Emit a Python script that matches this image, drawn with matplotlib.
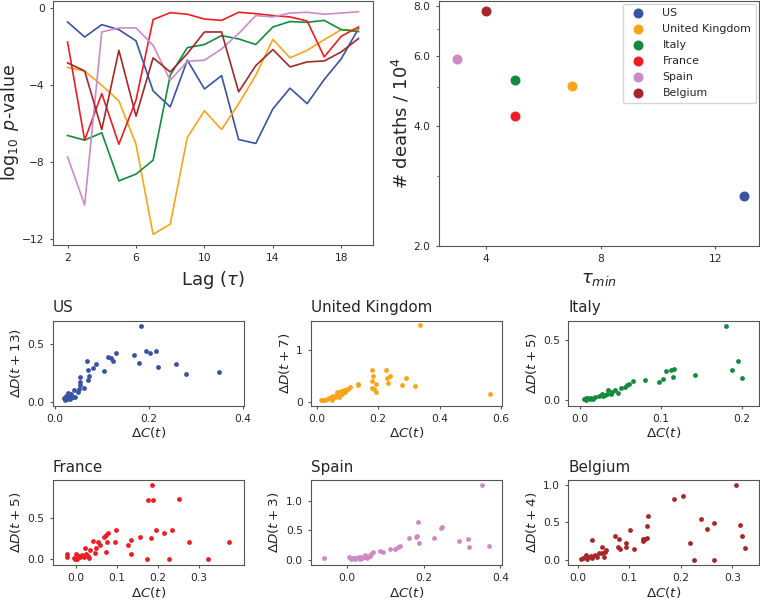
import matplotlib
matplotlib.use("Agg")
import matplotlib.pyplot as plt
import numpy as np
from matplotlib.ticker import FixedLocator, FormatStrFormatter, NullFormatter

# paises e cores
paises = ['US', 'United Kingdom', 'Italy', 'France', 'Spain', 'Belgium']
cores = ['#3953A4', '#FAA41A', '#138B3E', '#EE1D23', '#CE8BC3', '#A6262A']

# log10 p-valor por lag (tau = 2..19)
lags = list(range(2, 20))
pval = {
    'US': [-0.74, -1.52, -0.88, -1.14, -1.72, -4.31, -5.14, -2.72, -4.21, -3.52,
           -6.83, -7.03, -5.24, -4.17, -4.97, -3.72, -2.64, -1.09],
    'United Kingdom': [-3.10, -3.28, -4.02, -4.83, -7.07, -11.74, -11.21, -6.72, -5.34, -6.31,
                       -4.97, -3.50, -1.64, -2.60, -2.21, -1.66, -1.14, -1.17],
    'Italy': [-6.62, -6.86, -6.48, -8.97, -8.62, -7.90, -3.50, -2.07, -1.91, -1.45,
              -1.62, -1.91, -1.00, -0.72, -0.76, -0.66, -1.14, -1.24],
    'France': [-1.78, -6.86, -4.45, -7.07, -4.79, -0.62, -0.26, -0.34, -0.59, -0.66,
               -0.24, -0.31, -0.41, -0.48, -0.69, -2.55, -1.48, -1.00],
    'Spain': [-7.72, -10.22, -1.26, -1.05, -1.05, -1.95, -3.76, -2.78, -2.72, -2.14,
              -1.34, -0.41, -0.48, -0.28, -0.24, -0.34, -0.28, -0.21],
    'Belgium': [-2.86, -3.28, -6.31, -2.21, -5.62, -2.60, -3.33, -2.38, -1.26, -1.26,
                -4.36, -3.00, -2.17, -3.07, -2.81, -2.76, -2.29, -1.60],
}

# tau minimo e numero de mortes
tau_min = [13, 7, 5, 5, 3, 4]
mortes = [2.67, 5.05, 5.23, 4.24, 5.89, 7.78]

# dispersao dC(t) x dD(t + tau)
dC = {
    'US': [0.183, 0.194, 0.203, 0.216, 0.168, 0.180, 0.220, 0.258, 0.280, 0.350,
           0.130, 0.113, 0.120, 0.125, 0.105, 0.088, 0.081, 0.068, 0.071, 0.073,
           0.070, 0.063, 0.054, 0.053, 0.054, 0.052, 0.049, 0.042, 0.035, 0.039,
           0.030, 0.025, 0.026, 0.032, 0.037, 0.044, 0.019, 0.023, 0.028, 0.033],
    'United Kingdom': [0.335, 0.564, 0.321, 0.292, 0.278, 0.238, 0.226, 0.229, 0.232, 0.179,
                       0.182, 0.179, 0.193, 0.179, 0.188, 0.192, 0.134, 0.136, 0.109, 0.098,
                       0.090, 0.092, 0.079, 0.068, 0.065, 0.073, 0.054, 0.047, 0.040, 0.033,
                       0.022, 0.016, 0.027, 0.049, 0.060, 0.082, 0.101],
    'Italy': [0.181, 0.196, 0.188, 0.200, 0.143, 0.117, 0.113, 0.106, 0.115, 0.103,
              0.098, 0.080, 0.066, 0.061, 0.058, 0.056, 0.051, 0.047, 0.043, 0.040,
              0.035, 0.033, 0.031, 0.027, 0.023, 0.019, 0.014, 0.010, 0.007, 0.005,
              0.008, 0.012, 0.016, 0.029, 0.038],
    'France': [0.186, 0.176, 0.189, 0.251, 0.375, 0.277, 0.323, 0.227, 0.174, 0.235,
               0.214, 0.196, 0.184, 0.156, 0.133, 0.133, 0.126, 0.097, 0.095, 0.079,
               0.073, 0.068, 0.075, 0.073, 0.054, 0.057, 0.049, 0.041, 0.046, 0.034,
               0.028, 0.032, 0.022, 0.024, 0.018, 0.014, 0.010, 0.003, 0.000, -0.005,
               -0.023, -0.023, 0.006, -0.002],
    'Spain': [0.352, 0.370, 0.317, 0.315, 0.291, 0.227, 0.248, 0.244, 0.185, 0.183,
              0.180, 0.188, 0.161, 0.137, 0.133, 0.126, 0.113, 0.093, 0.087, 0.067,
              0.063, 0.061, 0.057, 0.050, 0.043, 0.037, 0.030, 0.023, 0.017, 0.013,
              0.009, 0.006, -0.061, 0.039, 0.052, 0.020, 0.035, 0.048],
    'Belgium': [0.307, 0.315, 0.319, 0.324, 0.264, 0.250, 0.239, 0.218, 0.226, 0.264,
                0.204, 0.186, 0.136, 0.134, 0.134, 0.127, 0.126, 0.130, 0.102, 0.109,
                0.094, 0.093, 0.080, 0.072, 0.079, 0.082, 0.056, 0.053, 0.051, 0.047,
                0.048, 0.041, 0.034, 0.028, 0.037, 0.026, 0.021, 0.017, 0.014, 0.011,
                0.006, 0.019, 0.028],
}
dD = {
    'US': [0.657, 0.440, 0.429, 0.440, 0.409, 0.343, 0.303, 0.334, 0.246, 0.260,
           0.426, 0.394, 0.386, 0.360, 0.271, 0.329, 0.300, 0.357, 0.280, 0.229,
           0.191, 0.123, 0.223, 0.180, 0.151, 0.114, 0.094, 0.109, 0.071, 0.051,
           0.051, 0.057, 0.029, 0.029, 0.043, 0.043, 0.037, 0.023, 0.080, 0.046],
    'United Kingdom': [1.490, 0.161, 0.303, 0.458, 0.323, 0.510, 0.626, 0.471, 0.368, 0.626,
                       0.510, 0.406, 0.342, 0.271, 0.252, 0.194, 0.355, 0.323, 0.290, 0.258,
                       0.239, 0.194, 0.213, 0.194, 0.161, 0.097, 0.110, 0.097, 0.071, 0.065,
                       0.045, 0.032, 0.032, 0.045, 0.097, 0.148, 0.245],
    'Italy': [0.617, 0.328, 0.256, 0.189, 0.214, 0.261, 0.250, 0.244, 0.194, 0.181,
              0.153, 0.167, 0.158, 0.139, 0.131, 0.111, 0.103, 0.061, 0.083, 0.069,
              0.083, 0.056, 0.042, 0.050, 0.033, 0.028, 0.022, 0.022, 0.017, 0.011,
              0.006, 0.014, 0.014, 0.033, 0.050],
    'France': [0.892, 0.712, 0.712, 0.720, 0.212, 0.204, 0.000, 0.000, 0.000, 0.348,
               0.320, 0.352, 0.260, 0.272, 0.232, 0.064, 0.168, 0.352, 0.212, 0.320,
               0.292, 0.272, 0.212, 0.092, 0.212, 0.172, 0.140, 0.220, 0.072, 0.112,
               0.044, 0.020, 0.132, 0.060, 0.032, 0.052, 0.024, 0.008, 0.060, 0.012,
               0.064, 0.024, 0.040, 0.000],
    'Spain': [1.271, 0.237, 0.215, 0.362, 0.328, 0.379, 0.554, 0.542, 0.638, 0.407,
              0.384, 0.282, 0.373, 0.237, 0.215, 0.181, 0.181, 0.141, 0.153, 0.130,
              0.102, 0.073, 0.068, 0.045, 0.056, 0.056, 0.045, 0.040, 0.040, 0.028,
              0.011, 0.045, 0.028, 0.028, 0.028, 0.017, 0.011, 0.085],
    'Belgium': [1.000, 0.471, 0.320, 0.164, 0.489, 0.413, 0.542, 0.231, 0.000, 0.000,
                0.858, 0.813, 0.587, 0.458, 0.298, 0.276, 0.249, 0.284, 0.396, 0.151,
                0.231, 0.178, 0.284, 0.316, 0.169, 0.142, 0.133, 0.111, 0.036, 0.098,
                0.169, 0.089, 0.067, 0.267, 0.044, 0.053, 0.044, 0.067, 0.036, 0.022,
                0.009, 0.018, 0.022],
}
lag_pais = [13, 7, 5, 5, 3, 4]

# Estilo geral
plt.rcParams['axes.edgecolor'] = '#555555'
plt.rcParams['xtick.color'] = '#555555'
plt.rcParams['ytick.color'] = '#555555'
plt.rcParams['xtick.labelcolor'] = '#262626'
plt.rcParams['ytick.labelcolor'] = '#262626'
plt.rcParams['text.color'] = '#262626'
plt.rcParams['axes.labelcolor'] = '#262626'
plt.rcParams['xtick.labelsize'] = 7.7
plt.rcParams['ytick.labelsize'] = 7.7
plt.rcParams['xtick.major.size'] = 2.5
plt.rcParams['ytick.major.size'] = 2.5
plt.rcParams['ytick.minor.size'] = 1.8

W, H = 760, 604
fig = plt.figure(figsize=(W / 100, H / 100), dpi=100)


def eixo(esq, topo, dir_, base):
    return fig.add_axes([esq / W, (H - base) / H, (dir_ - esq) / W, (base - topo) / H])


# Grafico 1: p-valor x lag
ax1 = eixo(53, 0.5, 373, 245)
for p, c in zip(paises, cores):
    ax1.plot(lags, pval[p], color=c, lw=1.2)
ax1.set_xticks([2, 6, 10, 14, 18])
ax1.set_yticks([0, -4, -8, -12])
ax1.set_xlim(1.15, 19.85)
ax1.set_ylim(-12.29, 0.37)
ax1.set_xlabel(r'Lag ($\tau$)', fontsize=13)
ax1.set_ylabel(r'$\log_{10}$ $p$-value', fontsize=12.5, labelpad=1)

# Grafico 2: mortes x tau minimo
ax2 = eixo(439, 0.5, 759, 246)
for p, c, t, m in zip(paises, cores, tau_min, mortes):
    ax2.scatter(t, m, color=c, s=38, label=p, zorder=3)
ax2.set_yscale('log')
ax2.set_ylim(2.0, 8.26)
ax2.set_xlim(2.36, 13.52)
ax2.yaxis.set_major_locator(FixedLocator([2, 4, 6, 8]))
ax2.yaxis.set_major_formatter(FormatStrFormatter('%.1f'))
ax2.yaxis.set_minor_locator(FixedLocator([3, 5, 7]))
ax2.yaxis.set_minor_formatter(NullFormatter())
ax2.set_xticks([4, 8, 12])
ax2.set_xlabel(r'$\tau_{min}$', fontsize=13)
ax2.set_ylabel(r'# deaths / $10^4$', fontsize=13, labelpad=1.5)
ax2.legend(loc='upper right', fontsize=7.9, frameon=True, edgecolor='#cccccc',
           borderaxespad=0.3, handletextpad=1.2, labelspacing=0.55)

# Graficos de dispersao
cols = [52.7, 311, 568.3]
linhas = [(320.7, 405.5), (480, 565)]
limites = {
    'US': ((-0.004, 0.402), (-0.026, 0.703), [0.0, 0.2, 0.4], [0.0, 0.5], '%.1f'),
    'United Kingdom': ((-0.018, 0.603), (-0.065, 1.568), [0.0, 0.2, 0.4, 0.6], [0, 1], '%d'),
    'Italy': ((-0.0144, 0.222), (-0.042, 0.661), [0.0, 0.1, 0.2], [0.0, 0.5], '%.1f'),
    'France': ((-0.0576, 0.41), (-0.068, 0.952), [0.0, 0.1, 0.2, 0.3], [0.0, 0.5], '%.1f'),
    'Spain': ((-0.094, 0.404), (-0.085, 1.356), [0.0, 0.2, 0.4], [0.0, 0.5, 1.0], '%.1f'),
    'Belgium': ((-0.018, 0.352), (-0.067, 1.067), [0.0, 0.1, 0.2, 0.3], [0.0, 0.5, 1.0], '%.1f'),
}
for i, (p, c, lag) in enumerate(zip(paises, cores, lag_pais)):
    topo, base = linhas[i // 3]
    esq = cols[i % 3]
    ax = eixo(esq, topo, esq + 191, base)
    ax.scatter(dC[p], dD[p], color=c, s=12, linewidths=0)
    xl, yl, xt, yt, fmt = limites[p]
    ax.set_xlim(xl)
    ax.set_ylim(yl)
    ax.set_xticks(xt)
    ax.set_yticks(yt)
    ax.yaxis.set_major_formatter(FormatStrFormatter(fmt))
    ax.set_title(p, loc='left', fontsize=10.9)
    ax.set_xlabel(r'$\Delta C(t)$', fontsize=9.7, labelpad=1)
    ax.set_ylabel(r'$\Delta D(t + %d)$' % lag, fontsize=9.7, labelpad=3)

fig.savefig('out.png', dpi=100)
